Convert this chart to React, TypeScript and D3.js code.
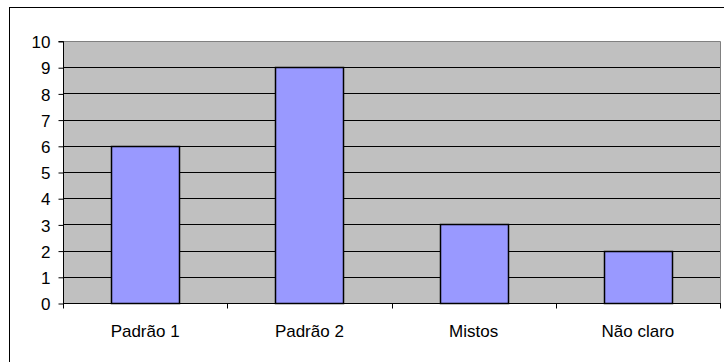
import { useEffect, useRef } from "react";
import * as d3 from "d3";

const categories = ["Padrão 1", "Padrão 2", "Mistos", "Não claro"];
const values = [6, 9, 3, 2];
const yTicks = [0, 1, 2, 3, 4, 5, 6, 7, 8, 9, 10];

export default function App() {
  const svgRef = useRef<SVGSVGElement>(null);

  useEffect(() => {
    if (!svgRef.current) return;
    document.body.style.margin = "0";
    const W = 724;
    const H = 362;
    const left = 63, right = 720, top = 41, bottom = 303;

    const svg = d3.select(svgRef.current);
    svg.selectAll("*").remove();
    svg.attr("width", W).attr("height", H);

    svg.append("rect").attr("width", W).attr("height", H).attr("fill", "white");

    // outer chart border
    svg.append("rect")
      .attr("x", 9.5).attr("y", 7.5)
      .attr("width", W + 10).attr("height", H + 10)
      .attr("fill", "none").attr("stroke", "black").attr("stroke-width", 1);

    const x = d3.scaleBand().domain(categories).range([left, right]).paddingInner(0.585).paddingOuter(0.2925);
    const y = d3.scaleLinear().domain([0, 10]).range([bottom, top]);

    // plot area
    svg.append("rect")
      .attr("x", left).attr("y", top)
      .attr("width", right - left).attr("height", bottom - top)
      .attr("fill", "#C0C0C0");
    svg.append("path")
      .attr("d", `M${left},${top + 0.5}H${right + 0.5}V${bottom}`)
      .attr("fill", "none").attr("stroke", "#808080");

    // gridlines
    svg.append("g").selectAll("line")
      .data(yTicks.filter(t => t > 0 && t < 10))
      .join("line")
      .attr("x1", left).attr("x2", right)
      .attr("y1", d => Math.round(y(d)) + 0.5).attr("y2", d => Math.round(y(d)) + 0.5)
      .attr("stroke", "black");

    // bars
    svg.append("g").selectAll("rect")
      .data(values)
      .join("rect")
      .attr("x", (_, i) => Math.round(x(categories[i])!) + 0.5)
      .attr("y", d => Math.round(y(d)) + 0.5)
      .attr("width", Math.round(x.bandwidth()))
      .attr("height", d => Math.round(y(0)) - Math.round(y(d)))
      .attr("fill", "#9999FF")
      .attr("stroke", "black")
      .attr("stroke-width", 1.5);

    const font = "Arial, 'Liberation Sans', sans-serif";

    // y axis
    const yAxis = d3.axisLeft(y).tickValues(yTicks).tickSize(5).tickPadding(8).tickFormat(d3.format("d"));
    const ya = svg.append("g").attr("transform", `translate(${left + 0.5},0.5)`).call(yAxis);
    ya.attr("font-size", null).attr("font-family", null);
    ya.select(".domain").attr("stroke", "black").attr("d", `M-5,${top}H0V${bottom}`);
    ya.selectAll("text")
      .style("font-family", font).style("font-size", "17px").attr("fill", "black")
      .attr("dy", "0.36em");

    // x axis with ticks at category boundaries
    const xa = svg.append("g").attr("transform", `translate(0,${bottom + 0.5})`);
    xa.append("line").attr("x1", left).attr("x2", right + 1).attr("stroke", "black");
    const step = x.step();
    xa.selectAll("line.tick")
      .data(d3.range(categories.length + 1))
      .join("line")
      .attr("class", "tick")
      .attr("x1", i => Math.round(left + i * step) + 0.5).attr("x2", i => Math.round(left + i * step) + 0.5)
      .attr("y1", 0).attr("y2", 5)
      .attr("stroke", "black");
    xa.selectAll("text")
      .data(categories)
      .join("text")
      .attr("x", d => x(d)! + x.bandwidth() / 2)
      .attr("y", 33)
      .attr("text-anchor", "middle")
      .style("font-family", font)
      .style("font-size", "17px")
      .attr("fill", "black")
      .text(d => d);
  }, []);

  return <svg ref={svgRef} style={{ display: "block" }} />;
}
